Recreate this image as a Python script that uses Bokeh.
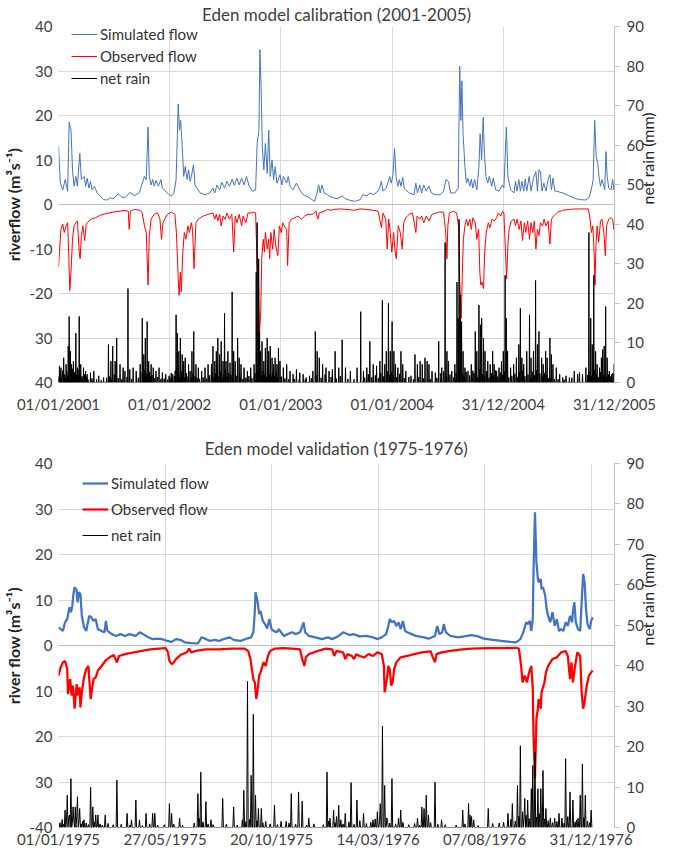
import math
import numpy as np
import pandas as pd
from bokeh.plotting import figure
from bokeh.models import Range1d, LinearAxis, FixedTicker, Span, Legend, LegendItem
from bokeh.layouts import column
from bokeh.embed import file_html
from bokeh.resources import INLINE

FONT = "Lato"
TICK_COLOR = "#404040"

# ---------------- Calibration (2001-2005) ----------------
cal_title = "Eden model calibration (2001-2005)"
cal_start = "01/01/2001"
cal_tick_labels = ["01/01/2001", "01/01/2002", "01/01/2003", "01/01/2004", "31/12/2004", "31/12/2005"]
cal_left_labels = ["40", "30", "20", "10", "0", "-10", "-20", "30", "40"]

cal_sim_day = [0, 6, 14, 22, 30, 35, 41, 46, 51, 57, 62, 70, 75, 84, 89, 94, 100, 105, 110, 118, 127, 137, 148, 159, 170, 180, 196, 207, 218, 234, 250, 266, 275, 282, 288, 294, 298, 304, 309, 314, 320, 328, 336, 341, 352, 363, 371, 379, 386, 393, 397, 401, 406, 411, 416, 422, 427, 432, 438, 443, 448, 454, 465, 481, 497, 507, 513, 520, 529, 536, 545, 553, 561, 570, 577, 586, 593, 601, 609, 617, 626, 636, 647, 652, 658, 661, 665, 669, 674, 679, 685, 690, 695, 701, 706, 711, 717, 727, 733, 738, 749, 754, 760, 770, 781, 792, 803, 813, 824, 840, 849, 854, 859, 865, 872, 883, 894,
               904, 915, 931, 942, 958, 974, 990, 999, 1012, 1022, 1033, 1049, 1054, 1060, 1065, 1076, 1087, 1092, 1098, 1103, 1108, 1114, 1119, 1124, 1130, 1135, 1140, 1151, 1167, 1173, 1178, 1186, 1192, 1199, 1207, 1216, 1224, 1237, 1253, 1264, 1272, 1280, 1287, 1301, 1312, 1317, 1321, 1324, 1328, 1334, 1339, 1344, 1350, 1355, 1360, 1366, 1373, 1380, 1384, 1389, 1394, 1398, 1403, 1409, 1414, 1422, 1427, 1435, 1446, 1457, 1462, 1470, 1475, 1484, 1495, 1500, 1505, 1511, 1516, 1521, 1527, 1532, 1537, 1545, 1551, 1559, 1567, 1572, 1577, 1582, 1587, 1593, 1600, 1607, 1613, 1618, 1623, 1629, 1634, 1655, 1677, 1698, 1714, 1731, 1741, 1750, 1755, 1760, 1765, 1770, 1774, 1779, 1784, 1793, 1797, 1801, 1806, 1814, 1819, 1823, 1825]
cal_sim_val = [13.0, 4.8, 3.3, 5.6, 3.0, 18.5, 16.7, 7.8, 4.1, 6.3, 4.1, 11.5, 5.6, 6.3, 4.1, 5.9, 3.7, 5.2, 3.3, 4.1, 2.6, 1.9, 1.1, 1.0, 1.5, 1.3, 2.4, 1.7, 1.5, 2.7, 2.0, 2.7, 4.8, 6.3, 5.6, 17.4, 6.3, 4.4, 5.6, 4.1, 5.4, 4.1, 5.6, 3.7, 3.0, 2.2, 1.9, 2.6, 5.6, 22.6, 16.7, 18.9, 13.0, 6.3, 8.5, 5.6, 7.8, 5.2, 7.0, 8.9, 4.4, 3.7, 2.6, 2.2, 2.6, 3.7, 2.6, 4.4, 3.3, 5.0, 3.7, 5.2, 4.1, 5.7, 4.3, 5.9, 4.4, 5.9, 4.4, 6.3, 4.1, 3.0, 3.3, 13.7, 16.7, 34.8, 26.3, 13.0, 7.8, 13.7, 7.0, 16.7, 6.3, 10.0, 5.6, 8.5, 4.8, 6.7, 4.4, 6.3, 4.8, 6.3, 4.1, 3.3, 4.8, 3.3, 2.2, 1.9, 1.5, 0.7, 2.6, 4.4, 2.6, 4.4, 2.6, 2.2, 1.7,
               1.5, 1.3, 1.9, 1.3, 0.9, 0.7, 1.1, 2.2, 1.9, 2.6, 2.2, 3.0, 3.7, 5.2, 3.0, 3.7, 6.3, 4.8, 6.7, 12.6, 6.3, 4.1, 5.6, 4.1, 6.1, 3.7, 3.3, 2.6, 2.2, 4.8, 2.6, 4.4, 2.6, 4.4, 3.0, 4.1, 2.6, 2.2, 2.2, 3.0, 5.6, 5.2, 2.6, 2.6, 3.7, 31.1, 18.9, 27.8, 15.9, 8.5, 4.8, 5.9, 4.1, 5.7, 3.7, 5.6, 3.3, 8.5, 15.9, 10.0, 19.6, 11.5, 6.3, 4.8, 6.3, 4.1, 5.9, 3.3, 3.0, 4.4, 3.7, 17.4, 6.3, 3.3, 2.6, 5.2, 3.0, 5.6, 3.0, 5.2, 3.0, 5.7, 3.0, 6.3, 3.0, 5.9, 7.4, 3.0, 7.8, 7.4, 3.0, 4.8, 3.0, 5.6, 6.7, 3.3, 5.9, 3.0, 3.0, 2.6, 1.9, 1.3, 1.1, 1.0, 1.5, 3.7, 5.6, 18.9, 10.7, 9.3, 6.3, 4.1, 5.6, 3.3, 11.9, 6.3, 3.7, 3.3, 5.6, 3.3, 4.1]

cal_obs_day = [0, 3, 8, 14, 19, 25, 30, 34, 37, 41, 46, 51, 57, 62, 68, 71, 75, 80, 86, 91, 100, 110, 121, 137, 159, 180, 202, 218, 229, 232, 236, 250, 268, 275, 282, 288, 294, 298, 304, 314, 325, 333, 338, 343, 357, 371, 382, 387, 393, 396, 400, 403, 408, 413, 418, 425, 430, 436, 440, 445, 451, 459, 475, 491, 507, 513, 518, 523, 529, 534, 540, 547, 553, 561, 569, 575, 580, 586, 593, 601, 606, 615, 622, 631, 641, 647, 652, 656, 660, 664, 667, 672, 676, 679, 685, 690, 693, 697, 703, 708, 713, 720, 725, 731, 736, 741, 749, 752, 757, 765, 776, 786, 797, 808, 819, 835, 845, 851, 856, 872, 883, 894,
               904, 926, 947, 969, 990, 1012, 1033, 1049, 1060, 1065, 1074, 1079, 1084, 1089, 1094, 1100, 1105, 1109, 1115, 1122, 1128, 1133, 1140, 1151, 1162, 1173, 1177, 1186, 1192, 1199, 1207, 1216, 1226, 1248, 1264, 1271, 1275, 1278, 1283, 1296, 1307, 1313, 1317, 1322, 1325, 1329, 1334, 1339, 1344, 1350, 1355, 1360, 1368, 1373, 1379, 1383, 1386, 1390, 1395, 1399, 1404, 1411, 1416, 1423, 1430, 1438, 1444, 1452, 1457, 1462, 1468, 1471, 1475, 1479, 1486, 1495, 1500, 1505, 1512, 1518, 1523, 1529, 1534, 1540, 1546, 1551, 1557, 1562, 1567, 1572, 1577, 1582, 1589, 1594, 1600, 1607, 1613, 1618, 1625, 1639, 1655, 1677, 1698, 1720, 1739, 1745, 1749, 1754, 1758, 1761, 1764, 1768, 1773, 1779, 1784, 1790, 1795, 1799, 1806, 1814, 1819, 1823, 1825]
cal_obs_val = [14.1, 10.7, 5.6, 4.4, 6.3, 4.8, 4.1, 12.2, 19.3, 15.2, 7.8, 4.8, 4.1, 3.7, 10.7, 12.2, 7.0, 4.8, 8.1, 4.4, 3.7, 3.2, 3.0, 2.4, 2.0, 1.7, 1.5, 1.3, 1.5, 5.6, 1.5, 1.1, 1.3, 1.9, 4.8, 6.3, 18.1, 7.0, 3.3, 2.2, 1.9, 3.3, 7.8, 4.1, 2.2, 1.7, 2.2, 6.3, 16.7, 20.4, 15.2, 19.6, 10.7, 6.3, 7.8, 4.8, 6.3, 4.1, 5.6, 14.4, 4.1, 3.3, 2.6, 2.2, 1.9, 3.3, 2.2, 3.7, 2.2, 4.8, 2.6, 3.3, 1.9, 3.3, 2.2, 10.7, 2.6, 4.1, 2.2, 4.8, 2.6, 4.1, 1.9, 1.9, 1.7, 1.9, 13.7, 15.2, 28.5, 24.1, 12.2, 7.8, 10.7, 6.3, 10.0, 7.8, 12.2, 6.3, 10.0, 5.6, 9.3, 11.5, 4.8, 6.3, 4.1, 4.8, 5.6, 13.7, 4.1, 3.3, 3.0, 2.6, 3.3, 2.6, 2.2, 2.2, 1.5, 3.3, 1.9, 1.5, 1.1, 1.3,
               1.1, 1.0, 1.1, 1.3, 1.0, 1.1, 1.3, 1.5, 5.2, 1.9, 3.3, 10.0, 3.3, 6.3, 10.7, 6.3, 10.7, 12.2, 4.8, 6.3, 10.0, 4.1, 3.0, 2.2, 1.9, 6.3, 2.6, 3.3, 2.6, 4.1, 2.6, 3.7, 2.2, 1.7, 1.7, 6.3, 12.2, 4.8, 1.9, 1.5, 1.9, 4.8, 17.4, 25.6, 16.7, 7.8, 4.8, 3.3, 4.8, 3.3, 5.6, 3.0, 4.1, 7.8, 5.6, 15.2, 18.1, 17.4, 18.9, 10.7, 6.3, 4.1, 5.2, 3.3, 3.7, 3.0, 1.9, 2.6, 1.5, 1.9, 12.2, 16.7, 9.3, 5.6, 3.7, 3.3, 4.8, 3.3, 5.6, 3.7, 8.1, 4.1, 6.3, 3.7, 7.8, 4.1, 6.3, 3.7, 10.0, 5.6, 7.0, 4.1, 4.8, 3.3, 4.8, 3.7, 8.9, 3.3, 2.6, 1.7, 1.3, 1.1, 1.0, 1.0, 1.0, 3.3, 6.3, 4.8, 10.7, 18.1, 9.3, 4.8, 8.5, 3.7, 3.3, 6.3, 11.5, 4.8, 3.3, 3.0, 3.3, 5.6, 5.2]

cal_rain_day = [3, 8, 17, 25, 32, 35, 39, 43, 49, 57, 62, 68, 73, 82, 89, 94, 105, 116, 132, 148, 164, 172, 178, 186, 191, 202, 212, 218, 228, 234, 245, 255, 268, 275, 280, 285, 291, 296, 304, 311, 320, 330, 341, 352, 363, 375, 386, 390, 395, 400, 406, 411, 416, 427, 438, 444, 451, 459, 470, 481, 491, 502, 507, 513, 518, 523, 529, 534, 540, 545, 550, 556, 563, 570, 575, 580, 588, 593, 599, 609, 620, 631, 642, 649, 652, 657, 660, 663, 668, 674, 679, 685, 690, 695, 701, 706, 711, 717, 722, 727, 738, 749, 760, 770, 781, 792, 803, 813, 824, 835, 843, 849, 856, 867, 878, 888, 899,
                908, 920, 931, 942, 958, 980, 992, 1001, 1012, 1022, 1033, 1044, 1055, 1063, 1071, 1076, 1083, 1089, 1095, 1101, 1106, 1114, 1124, 1130, 1140, 1157, 1170, 1178, 1187, 1194, 1203, 1210, 1216, 1226, 1237, 1248, 1258, 1269, 1275, 1280, 1291, 1301, 1308, 1312, 1315, 1319, 1323, 1328, 1334, 1344, 1355, 1368, 1373, 1380, 1385, 1389, 1395, 1400, 1409, 1417, 1425, 1430, 1438, 1446, 1454, 1460, 1466, 1470, 1474, 1484, 1494, 1503, 1511, 1516, 1521, 1527, 1537, 1546, 1551, 1559, 1566, 1572, 1577, 1586, 1591, 1599, 1604, 1613, 1618, 1623, 1634, 1645, 1655, 1666, 1677, 1693, 1704, 1720, 1731, 1741, 1747, 1752, 1757, 1763, 1768, 1776, 1782, 1786, 1791, 1796, 1801, 1808, 1816, 1824]
cal_rain_mm = [4.2, 3.75, 6.25, 4.6, 9.2, 16.7, 7.9, 4.6, 5.4, 12.5, 3.75, 16.7, 4.6, 3.75, 2.9, 2.1, 2.5, 2.9, 1.7, 1.25, 9.6, 5.4, 9.2, 5.4, 11.25, 4.6, 3.75, 2.9, 23.75, 3.3, 3.75, 2.9, 4.6, 16.25, 7.1, 11.25, 15.4, 5.4, 4.6, 3.75, 2.9, 3.75, 2.5, 2.1, 1.7, 2.1, 17.1, 12.5, 7.9, 11.25, 7.1, 5.4, 6.25, 4.6, 7.9, 12.9, 4.6, 3.75, 2.9, 3.75, 4.6, 4.6, 9.2, 5.4, 7.9, 11.25, 7.1, 10.4, 5.4, 17.5, 5.4, 7.9, 5.0, 22.9, 7.9, 5.4, 11.25, 6.25, 4.6, 3.75, 2.9, 3.75, 4.6, 27.9, 40.4, 31.25, 12.9, 7.9, 10.4, 5.4, 8.75, 11.25, 7.9, 9.2, 6.25, 4.6, 6.25, 4.6, 8.75, 5.4, 3.75, 4.6, 2.9, 2.1, 3.3, 2.5, 2.1, 1.25, 1.7, 2.9, 12.9, 7.9, 6.25, 4.6, 3.75, 2.9, 3.3,
               7.9, 3.75, 10.8, 3.75, 2.9, 3.75, 17.9, 2.9, 3.75, 10.4, 4.6, 4.2, 5.4, 20.8, 4.6, 7.9, 20.0, 7.9, 15.4, 7.9, 4.6, 3.75, 7.9, 4.6, 2.9, 1.7, 7.1, 4.6, 5.4, 4.6, 6.25, 5.4, 4.6, 2.9, 2.5, 10.4, 3.75, 35.4, 7.9, 5.4, 2.9, 4.6, 25.4, 16.25, 41.25, 22.1, 15.4, 7.9, 3.75, 2.9, 4.6, 12.9, 7.9, 19.6, 14.6, 16.25, 11.25, 7.9, 5.4, 4.6, 7.9, 4.6, 2.9, 3.75, 5.4, 7.9, 27.1, 16.25, 7.9, 3.75, 4.6, 6.25, 9.6, 18.75, 6.25, 4.6, 7.9, 17.1, 6.25, 7.9, 25.8, 9.6, 12.9, 6.25, 4.6, 7.9, 6.25, 11.25, 7.1, 4.6, 3.75, 2.1, 1.25, 1.7, 1.25, 2.9, 2.1, 2.1, 3.75, 37.9, 16.25, 9.6, 27.1, 7.9, 4.6, 3.75, 6.25, 8.3, 9.2, 19.2, 6.25, 2.9, 2.1, 4.6]

# smaller daily rain amounts between the larger events
cal_small_day = [1, 5, 10, 13, 20, 22, 27, 29, 37, 41, 45, 47, 53, 55, 60, 64, 66, 71, 77, 79, 85, 92, 97, 110, 125, 140, 158, 167, 175, 183, 196, 208, 225, 240, 262, 270, 277, 283, 288, 293, 299, 302, 307, 315, 325, 336, 347, 358, 366, 370, 380, 383, 392, 398, 403, 409, 414, 420, 425, 432, 436, 441, 448, 455, 463, 475, 486, 496, 505, 511, 516, 521, 527, 532, 537, 543, 548, 553, 559, 566, 573, 583, 596, 605, 615, 625, 635, 645, 655, 665, 671, 677, 682, 688, 693, 699, 704, 709, 715, 720, 731, 743, 755, 775, 790, 810, 830, 845, 862, 875, 895, 912, 925, 950, 970, 1005, 1017, 1028, 1040, 1050, 1058, 1067, 1079, 1086, 1092, 1098, 1110, 1120, 1135, 1150, 1165, 1182, 1198, 1220, 1242, 1255, 1264, 1272, 1285, 1297, 1305, 1317, 1326, 1331, 1338, 1350, 1360, 1364, 1377, 1383, 1392, 1398, 1405, 1413, 1421, 1428, 1435, 1442, 1450, 1457, 1463, 1478, 1488, 1498, 1507, 1513, 1524, 1531, 1541, 1549, 1555, 1562, 1569, 1580, 1589, 1595, 1602, 1609, 1615, 1628, 1640, 1660, 1685, 1710, 1737, 1744, 1750, 1760, 1766, 1772, 1779, 1788, 1793, 1799, 1805, 1812, 1820]
cal_small_mm = [1.5, 2.5, 1.0, 3.0, 2.0, 1.2, 2.8, 1.8, 0.8, 2.2, 3.5, 1.4, 2.6, 1.0, 1.9, 3.2, 1.1, 2.4, 1.6, 0.9, 2.1, 1.3, 0.7, 1.0, 0.8, 0.6, 1.2, 1.5, 0.9, 2.0, 1.1, 0.8, 1.4, 0.9, 1.2, 2.6, 1.8, 3.1, 2.2, 1.0, 2.7, 1.5, 1.9, 1.1, 1.4, 0.9, 1.0, 0.7, 1.2, 2.4, 1.6, 3.0, 2.1, 1.3, 2.8, 1.7, 1.2, 2.3, 1.5, 2.9, 1.0, 2.2, 1.6, 1.1, 0.9, 1.3, 1.0, 1.8, 2.6, 1.4, 2.2, 3.1, 1.6, 2.7, 1.2, 2.0, 3.4, 1.5, 2.4, 1.9, 1.1, 1.7, 1.3, 0.9, 1.2, 1.6, 1.1, 2.4, 3.2, 1.8, 2.9, 2.0, 1.4, 3.3, 2.1, 1.5, 2.6, 1.7, 2.8, 1.3, 1.5, 1.0, 0.8, 0.9, 0.7, 0.8, 1.1, 1.8, 1.2, 2.0, 1.4, 1.0, 1.6, 0.9, 0.8, 1.2, 2.1, 1.3, 1.8, 1.1, 2.4, 1.5, 2.9, 1.9, 2.6, 1.6, 1.3, 2.2, 1.1, 1.4, 0.8, 1.3, 1.0, 0.9, 1.2, 2.3, 2.8, 1.6, 2.0, 1.3, 2.5, 3.2, 2.2, 1.5, 2.7, 1.8, 3.0, 2.4, 1.4, 3.4, 2.1, 1.6, 2.9, 1.2, 2.3, 1.8, 3.1, 1.5, 2.5, 1.9, 2.8, 1.3, 1.7, 2.2, 1.4, 2.6, 3.0, 1.6, 2.0, 1.2, 2.7, 1.8, 3.1, 2.3, 1.5, 2.4, 1.9, 1.1, 1.4, 0.9, 0.8, 0.7, 1.2, 2.5, 1.9, 2.8, 1.6, 3.2, 2.1, 1.4, 2.6, 1.8, 2.2, 1.3, 2.0, 1.5, 2.4]

# ---------------- Validation (1975-1976) ----------------
val_title = "Eden model validation (1975-1976)"
val_start = "01/01/1975"
val_tick_labels = ["01/01/1975", "27/05/1975", "20/10/1975", "14/03/1976", "07/08/1976", "31/12/1976"]
val_left_labels = ["40", "30", "20", "10", "0", "10", "20", "30", "-40"]

val_sim_day = [0, 6, 9, 12, 15, 17, 19, 20, 22, 25, 26, 28, 30, 32, 35, 38, 42, 45, 48, 51, 54, 59, 63, 65, 67, 73, 79, 85, 91, 97, 106, 111, 116, 123, 129, 135, 142, 149, 155, 161, 167, 173, 182, 191, 196, 202, 208, 214, 220, 226, 235, 240, 249, 258, 264, 267, 269, 270, 273, 275, 277, 280, 283, 286, 289, 292, 295, 299, 302, 305, 309, 314, 320, 325, 331, 336, 338, 343, 352, 361, 369, 375, 384, 390, 399, 404, 413, 422, 431, 437, 443, 449, 452, 454, 457, 460, 463, 466, 469, 472, 475, 478, 484, 490, 501, 507, 516, 519, 522, 526, 528, 531, 537, 548, 560, 566, 575, 583, 595, 607, 619, 627, 633, 637, 641, 643, 646, 648, 650, 651, 653, 655, 657, 658, 661, 662, 664, 667, 669, 671, 674, 677, 680, 683, 686, 689, 692, 695, 698, 701, 704, 705, 707, 709, 712, 715, 717, 719, 721, 723, 725, 728, 730, 732]
val_sim_val = [4.0, 3.2, 5.1, 5.8, 8.4, 7.3, 8.75, 10.6, 12.8, 12.1, 9.5, 11.7, 11.3, 6.5, 4.0, 3.2, 6.5, 6.2, 5.4, 5.8, 3.6, 3.2, 2.9, 5.4, 3.2, 2.5, 2.1, 2.5, 2.1, 2.5, 2.1, 2.9, 2.5, 1.8, 1.4, 1.5, 1.4, 1.0, 0.8, 1.4, 1.25, 0.7, 0.5, 0.44, 1.8, 1.4, 1.0, 1.25, 1.0, 1.4, 1.8, 1.25, 1.0, 1.5, 1.8, 2.9, 7.3, 11.7, 9.5, 6.9, 7.6, 5.4, 4.7, 3.75, 5.8, 3.6, 3.2, 2.9, 3.6, 2.9, 2.1, 2.5, 2.9, 2.5, 2.9, 5.1, 2.9, 2.1, 1.8, 1.4, 1.8, 1.4, 2.1, 2.9, 2.3, 2.5, 2.0, 2.1, 1.8, 1.4, 1.8, 2.5, 4.3, 5.8, 5.1, 5.4, 4.3, 5.1, 3.6, 5.4, 3.2, 2.9, 2.5, 2.1, 1.8, 1.5, 2.1, 4.3, 2.5, 2.9, 4.7, 2.9, 2.1, 1.8, 2.1, 2.3, 2.0, 1.5, 1.25, 1.0, 0.8, 0.7, 1.4, 2.9, 5.1, 4.7, 5.4, 3.2, 5.8, 16.1, 29.3, 18.3, 14.6, 13.9, 14.6, 12.4, 12.8, 11.0, 8.0, 6.5, 5.1, 7.3, 4.3, 5.8, 3.2, 3.6, 3.2, 5.1, 4.3, 6.5, 5.1, 7.6, 9.5, 5.1, 3.6, 3.2, 9.5, 15.7, 13.9, 8.0, 4.7, 3.6, 5.4, 6.2]

val_obs_day = [0, 3, 6, 9, 12, 13, 16, 18, 20, 22, 25, 26, 29, 30, 32, 35, 38, 41, 44, 46, 48, 51, 54, 59, 64, 70, 76, 80, 83, 91, 103, 114, 126, 138, 147, 150, 152, 155, 158, 161, 167, 176, 179, 182, 188, 202, 220, 237, 255, 260, 263, 265, 267, 269, 271, 273, 275, 277, 281, 284, 287, 290, 296, 308, 320, 331, 334, 337, 339, 343, 355, 366, 375, 378, 381, 390, 393, 396, 402, 405, 408, 413, 419, 425, 431, 437, 443, 446, 447, 450, 452, 454, 456, 458, 460, 463, 469, 478, 487, 498, 510, 513, 516, 518, 525, 537, 554, 566, 589, 610, 627, 631, 634, 636, 639, 642, 645, 648, 650, 651, 653, 655, 657, 658, 661, 662, 666, 668, 671, 677, 683, 689, 695, 698, 701, 703, 705, 708, 711, 715, 717, 719, 721, 724, 727, 730, 732]
val_obs_val = [6.6, 4.8, 3.7, 3.4, 5.2, 10.7, 7.4, 11.0, 8.8, 13.9, 8.5, 11.0, 9.2, 13.6, 10.3, 7.0, 5.2, 4.5, 11.75, 9.6, 7.4, 7.0, 5.5, 4.5, 3.4, 2.6, 2.1, 3.7, 2.3, 1.9, 1.5, 1.2, 0.85, 0.7, 0.6, 1.5, 3.4, 4.1, 3.7, 3.0, 2.1, 1.5, 0.7, 1.5, 1.2, 0.85, 0.85, 0.7, 0.7, 1.2, 3.0, 5.2, 7.4, 8.1, 11.75, 9.6, 6.6, 5.9, 3.7, 4.5, 2.3, 1.2, 0.7, 0.6, 0.7, 0.85, 3.0, 4.5, 2.6, 1.9, 1.2, 0.7, 0.85, 2.3, 1.2, 1.5, 3.0, 1.9, 2.3, 3.0, 1.9, 2.3, 2.6, 1.9, 2.3, 1.5, 1.9, 4.5, 10.3, 7.4, 4.5, 5.2, 8.8, 8.1, 5.2, 3.7, 2.6, 2.3, 1.9, 1.5, 1.3, 2.6, 3.7, 1.9, 1.5, 1.2, 0.85, 0.7, 0.6, 0.58, 0.5, 0.7, 4.5, 8.1, 6.6, 8.1, 5.9, 4.5, 9.6, 19.8, 29.3, 16.1, 13.9, 11.75, 13.9, 10.3, 8.1, 5.9, 4.5, 3.0, 2.6, 1.5, 1.2, 2.3, 7.4, 3.7, 8.1, 4.5, 1.5, 2.3, 10.3, 13.9, 12.4, 8.8, 6.6, 5.9, 5.5]

val_rain_day = [9, 12, 15, 17, 20, 23, 26, 29, 35, 44, 47, 51, 54, 64, 80, 94, 100, 106, 111, 120, 129, 132, 152, 155, 166, 191, 195, 202, 209, 225, 240, 252, 254, 259, 264, 267, 270, 274, 278, 284, 296, 305, 312, 319, 329, 334, 343, 368, 372, 377, 381, 384, 387, 393, 401, 409, 418, 431, 437, 441, 444, 447, 451, 457, 466, 469, 492, 498, 501, 504, 507, 516, 525, 554, 562, 564, 566, 569, 589, 604, 616, 622, 629, 633, 636, 639, 643, 648, 650, 653, 657, 661, 664, 668, 674, 680, 686, 695, 701, 705, 712, 715, 718, 722, 730]
val_rain_mm = [4.3, 8.0, 3.1, 12.1, 5.1, 5.1, 7.6, 4.7, 1.9, 10.0, 5.1, 3.1, 3.1, 3.1, 11.7, 3.5, 1.9, 6.8, 1.9, 3.5, 3.5, 3.5, 5.9, 3.5, 2.3, 8.4, 13.7, 6.4, 1.9, 7.2, 5.1, 1.9, 9.2, 36.1, 12.9, 28.0, 8.0, 4.7, 4.7, 1.5, 5.5, 1.5, 1.5, 8.4, 8.8, 6.5, 2.3, 13.7, 2.3, 4.3, 2.7, 5.5, 1.9, 3.5, 11.1, 6.8, 3.5, 1.9, 3.9, 5.9, 25.1, 10.4, 1.5, 12.1, 2.3, 4.3, 2.3, 5.1, 4.7, 8.0, 3.1, 11.2, 1.9, 4.3, 5.9, 3.1, 2.7, 1.9, 4.7, 1.1, 3.5, 5.9, 10.4, 20.2, 3.9, 7.2, 6.8, 9.6, 15.3, 18.6, 9.6, 9.6, 14.1, 4.7, 2.3, 2.3, 3.5, 17.0, 8.8, 6.8, 2.3, 8.0, 15.7, 8.0, 4.3]

val_small_day = [2, 5, 7, 11, 14, 19, 21, 25, 28, 31, 33, 38, 41, 49, 57, 60, 68, 75, 86, 98, 115, 125, 136, 145, 158, 170, 186, 193, 198, 205, 212, 230, 245, 257, 262, 272, 280, 290, 300, 316, 325, 340, 350, 363, 370, 379, 390, 398, 405, 413, 422, 428, 434, 440, 450, 454, 462, 472, 480, 488, 495, 510, 520, 530, 545, 557, 575, 595, 610, 620, 626, 631, 638, 641, 645, 655, 659, 666, 671, 677, 683, 690, 693, 698, 708, 710, 720, 725, 728]
val_small_mm = [1.2, 2.0, 0.8, 1.5, 2.4, 1.0, 1.8, 2.6, 1.3, 0.9, 1.6, 1.1, 0.7, 1.4, 0.9, 0.6, 1.0, 0.7, 0.8, 0.6, 0.5, 0.9, 0.6, 0.7, 0.8, 0.5, 1.1, 2.2, 1.4, 0.9, 0.7, 0.8, 0.6, 1.5, 2.0, 1.7, 1.2, 0.9, 0.7, 1.1, 0.8, 0.6, 0.9, 0.7, 1.6, 1.2, 0.9, 1.4, 0.8, 1.7, 1.0, 1.3, 2.1, 1.5, 2.4, 1.1, 0.9, 1.3, 0.7, 1.0, 0.6, 1.2, 0.8, 0.7, 0.6, 0.9, 0.5, 1.0, 1.3, 2.0, 1.6, 2.8, 1.9, 3.0, 2.2, 2.6, 3.4, 2.1, 1.7, 1.2, 1.5, 2.3, 1.1, 2.7, 1.4, 1.8, 2.5, 1.6, 1.2]


def panel(title, start, tick_labels, x_end, left_labels, sim_d, sim_v, obs_d, obs_v,
          rain_d, rain_v, small_d, small_v, ylabel, rlabel, flow_w, leg_h, leg_loc,
          height, top, bottom, title_standoff, xlab_standoff):
    t0 = pd.to_datetime(start, dayfirst=True)
    ticks = [int((pd.to_datetime(s, dayfirst=True) - t0).days) for s in tick_labels]
    if x_end is None:
        x_end = ticks[-1]
    p = figure(width=669, height=height, x_range=Range1d(0, x_end), y_range=Range1d(-40, 40),
               output_backend="svg", toolbar_location=None,
               min_border_left=51, min_border_right=50, min_border_top=top, min_border_bottom=bottom)
    p.outline_line_color = None
    p.title.text = title
    p.title.align = "center"
    p.title.text_font = FONT
    p.title.text_font_size = "17px"
    p.title.text_font_style = "normal"
    p.title.text_color = "#404040"
    p.title.standoff = title_standoff

    lv = list(range(40, -41, -10))
    ya = p.yaxis[0]
    ya.ticker = FixedTicker(ticks=lv)
    ya.major_label_overrides = {v: s for v, s in zip(lv, left_labels)}
    ya.axis_line_color = None
    ya.major_tick_line_color = None
    ya.major_tick_out = 0
    ya.minor_tick_line_color = None
    ya.major_label_text_font = FONT
    ya.major_label_text_font_size = "15px"
    ya.major_label_text_color = TICK_COLOR
    ya.major_label_standoff = 6
    ya.axis_label = ylabel
    ya.axis_label_text_font = FONT
    ya.axis_label_text_font_size = "16px"
    ya.axis_label_text_font_style = "bold"
    ya.axis_label_text_color = "#222222"
    ya.axis_label_standoff = 4

    xa = p.xaxis[0]
    xa.ticker = FixedTicker(ticks=ticks)
    xa.major_label_overrides = {v: s for v, s in zip(ticks, tick_labels)}
    xa.axis_line_color = None
    xa.major_tick_line_color = None
    xa.major_tick_out = 0
    xa.major_tick_in = 0
    xa.minor_tick_line_color = None
    xa.major_label_text_font = FONT
    xa.major_label_text_font_size = "15px"
    xa.major_label_text_color = TICK_COLOR
    xa.major_label_standoff = xlab_standoff

    p.xgrid.ticker = FixedTicker(ticks=ticks)
    p.ygrid.ticker = FixedTicker(ticks=lv)
    p.xgrid.grid_line_color = "#d9d9d9"
    p.ygrid.grid_line_color = "#d9d9d9"
    p.add_layout(Span(location=0, dimension="width", line_color="#bfbfbf", line_width=1))

    p.extra_y_ranges = {"rain": Range1d(0, 90)}
    ra = LinearAxis(y_range_name="rain", ticker=FixedTicker(ticks=list(range(0, 91, 10))))
    ra.axis_line_color = "#bfbfbf"
    ra.major_tick_line_color = "#bfbfbf"
    ra.major_tick_in = 0
    ra.major_tick_out = 5
    ra.minor_tick_line_color = None
    ra.major_label_text_font = FONT
    ra.major_label_text_font_size = "15px"
    ra.major_label_text_color = TICK_COLOR
    ra.major_label_standoff = 7
    ra.axis_label = rlabel
    ra.axis_label_orientation = math.pi / 2
    ra.axis_label_text_font = FONT
    ra.axis_label_text_font_size = "16px"
    ra.axis_label_text_font_style = "normal"
    ra.axis_label_text_color = "#222222"
    ra.axis_label_standoff = 1
    p.add_layout(ra, "right")

    r_sim = p.line(sim_d, sim_v, line_color="#4472C4", line_width=flow_w)
    r_obs = p.line(obs_d, [-v for v in obs_v], line_color="#FF0000", line_width=flow_w)
    n = max(max(rain_d), max(small_d)) + 2
    rain = np.zeros(n)
    np.maximum.at(rain, np.array(small_d), np.array(small_v))
    np.maximum.at(rain, np.array(rain_d), np.array(rain_v))
    r_rain = p.line(np.arange(n), rain, y_range_name="rain", line_color="black", line_width=1)

    leg = Legend(items=[LegendItem(label="Simulated flow", renderers=[r_sim]),
                        LegendItem(label="Observed flow", renderers=[r_obs]),
                        LegendItem(label="net rain", renderers=[r_rain])],
                 location=leg_loc, orientation="vertical")
    leg.glyph_width = 26
    leg.glyph_height = leg_h
    leg.label_height = leg_h
    leg.spacing = 0
    leg.padding = 0
    leg.margin = 0
    leg.label_standoff = 3
    leg.label_text_font = FONT
    leg.label_text_font_size = "15px"
    leg.label_text_color = "#333333"
    leg.border_line_color = None
    leg.background_fill_alpha = 0
    p.add_layout(leg, "center")
    return p


p1 = panel(cal_title, cal_start, cal_tick_labels, None, cal_left_labels,
           cal_sim_day, cal_sim_val, cal_obs_day, cal_obs_val, cal_rain_day, cal_rain_mm,
           cal_small_day, cal_small_mm, "riverflow (m³s⁻¹)", "net rain (mm)", 1, 22, (13, 293),
           422, 22, 40, 3, 12)
p2 = panel(val_title, val_start, val_tick_labels, 762, val_left_labels,
           val_sim_day, val_sim_val, val_obs_day, val_obs_val, val_rain_day, val_rain_mm,
           val_small_day, val_small_mm, "river flow (m³s⁻¹)", "net rain (mm)", 2.25, 26, (24, 279),
           428, 41, 22, 10, 2)

layout = column(p1, p2, spacing=0)
open("out.html", "w").write(file_html(layout, INLINE))
